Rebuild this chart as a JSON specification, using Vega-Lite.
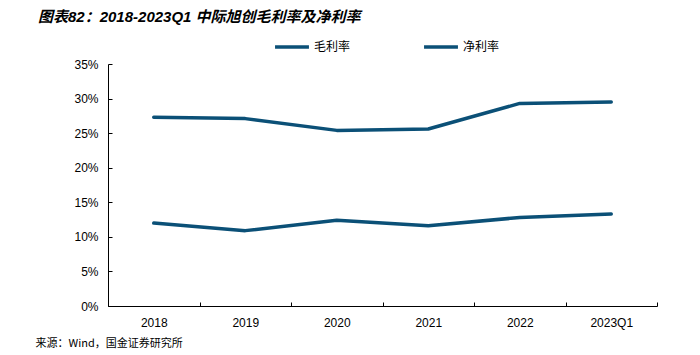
{
  "$schema": "https://vega.github.io/schema/vega-lite/v6.json",
  "autosize": {"type": "none"},
  "width": 549,
  "height": 242,
  "padding": {"left": 108, "top": 64, "right": 43, "bottom": 49},
  "background": "white",
  "title": {
    "text": "图表82：2018-2023Q1 中际旭创毛利率及净利率",
    "anchor": "start",
    "frame": "group",
    "dx": -70,
    "offset": 3,
    "font": "Liberation Sans, Noto Sans CJK SC",
    "fontSize": 15,
    "fontWeight": "bold",
    "fontStyle": "italic",
    "color": "#000000"
  },
  "config": {
    "view": {"stroke": null},
    "font": "Liberation Sans, Noto Sans CJK SC"
  },
  "data": {
    "values": [
      {"period": "2018", "series": "毛利率", "value": 0.273},
      {"period": "2019", "series": "毛利率", "value": 0.271},
      {"period": "2020", "series": "毛利率", "value": 0.254},
      {"period": "2021", "series": "毛利率", "value": 0.256},
      {"period": "2022", "series": "毛利率", "value": 0.293},
      {"period": "2023Q1", "series": "毛利率", "value": 0.295},
      {"period": "2018", "series": "净利率", "value": 0.120},
      {"period": "2019", "series": "净利率", "value": 0.109},
      {"period": "2020", "series": "净利率", "value": 0.124},
      {"period": "2021", "series": "净利率", "value": 0.116},
      {"period": "2022", "series": "净利率", "value": 0.128},
      {"period": "2023Q1", "series": "净利率", "value": 0.133}
    ]
  },
  "mark": {"type": "line", "strokeWidth": 3.5, "strokeCap": "round", "strokeJoin": "round"},
  "encoding": {
    "x": {
      "field": "period",
      "type": "ordinal",
      "sort": null,
      "scale": {"type": "band", "paddingInner": 0, "paddingOuter": 0},
      "axis": {
        "tickBand": "extent",
        "tickSize": -4,
        "tickColor": "#000000",
        "domainColor": "#000000",
        "labelAngle": 0,
        "labelFontSize": 12,
        "labelColor": "#000000",
        "labelPadding": 15,
        "title": "来源：Wind，国金证券研究所",
        "titleFont": "Noto Sans CJK SC",
        "titleFontSize": 11,
        "titleFontWeight": "normal",
        "titleColor": "#000000",
        "titleAlign": "left",
        "titleBaseline": "middle",
        "titleX": -73,
        "titleY": 37
      }
    },
    "y": {
      "field": "value",
      "type": "quantitative",
      "scale": {"domain": [0, 0.35]},
      "axis": {
        "values": [0, 0.05, 0.1, 0.15, 0.2, 0.25, 0.3, 0.35],
        "format": ".0%",
        "grid": false,
        "tickSize": -4,
        "tickColor": "#000000",
        "domainColor": "#000000",
        "labelFontSize": 12,
        "labelColor": "#000000",
        "labelPadding": 14,
        "title": null
      }
    },
    "color": {
      "field": "series",
      "type": "nominal",
      "scale": {"domain": ["毛利率", "净利率"], "range": ["#0b5077", "#0b5077"]},
      "legend": {
        "title": null,
        "orient": "none",
        "direction": "horizontal",
        "legendX": 165,
        "legendY": -36,
        "symbolType": "stroke",
        "symbolSize": 1150,
        "symbolStrokeWidth": 3.5,
        "labelFont": "Noto Sans CJK SC",
        "labelFontSize": 12,
        "labelColor": "#000000",
        "labelOffset": 3,
        "columnPadding": 66
      }
    }
  }
}
